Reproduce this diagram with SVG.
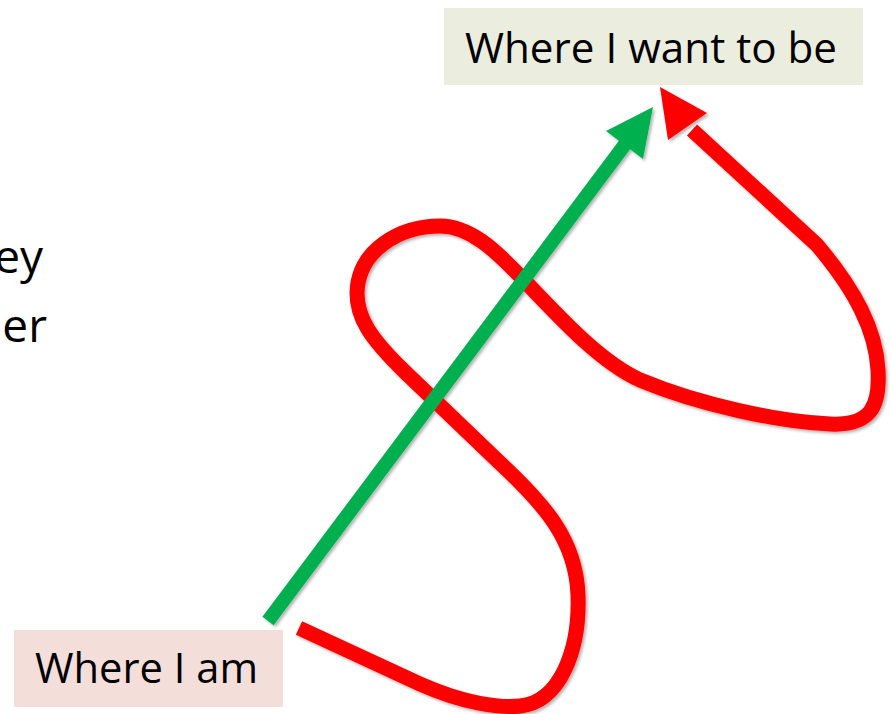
<svg xmlns="http://www.w3.org/2000/svg" width="891" height="714" viewBox="0 0 891 714">
<style>
.lbl{font-family:"Open Sans","Liberation Sans",sans-serif;font-size:42px;fill:#000}
.side{font-size:46px}
.red{fill:none;stroke:#FF0000;stroke-width:15}
.grn{fill:none;stroke:#00B050;stroke-width:14}
</style>
<defs>
<filter id="sh" x="-10%" y="-10%" width="120%" height="120%">
<feDropShadow dx="2" dy="2" stdDeviation="1.5" flood-color="#000" flood-opacity="0.3"/>
</filter>
</defs>
<rect width="891" height="714" fill="#fff"/>
<g id="text-left">
<text class="lbl side" x="43" y="273" text-anchor="end">ey</text>
<text class="lbl side" x="47" y="342" text-anchor="end">er</text>
</g>
<g id="goal">
<rect x="444" y="8" width="419" height="77" fill="#EBEEDE"/>
<text class="lbl" x="465" y="63" textLength="372" lengthAdjust="spacingAndGlyphs">Where I want to be</text>
</g>
<g id="start">
<rect x="14" y="630" width="269" height="77" fill="#F4DED9"/>
<text class="lbl" x="35" y="683" textLength="223" lengthAdjust="spacingAndGlyphs">Where I am</text>
</g>
<g id="connectors" filter="url(#sh)">
<g id="red-path">
<path class="red" d="M 299,628 L 420,684 C 465,704 500,708 520,706 C 560,702 580,650 578,595 C 576,540 545,505 500,463 L 405,372 C 370,338 357,318 357,293 C 358,250 400,226 440,226 C 470,226 495,250 520,276 C 560,318 600,362 640,380 C 700,405 780,422 830,424 C 872,426 880,405 878,370 C 876,330 855,290 817,245 L 692,130"/>
<polygon points="660,87 707,113 668,140" fill="#FF0000"/>
</g>
<g id="green-arrow">
<line class="grn" x1="268" y1="621" x2="626" y2="143"/>
<polygon points="653,107 606,131 643,159" fill="#00B050"/>
</g>
</g>
</svg>
